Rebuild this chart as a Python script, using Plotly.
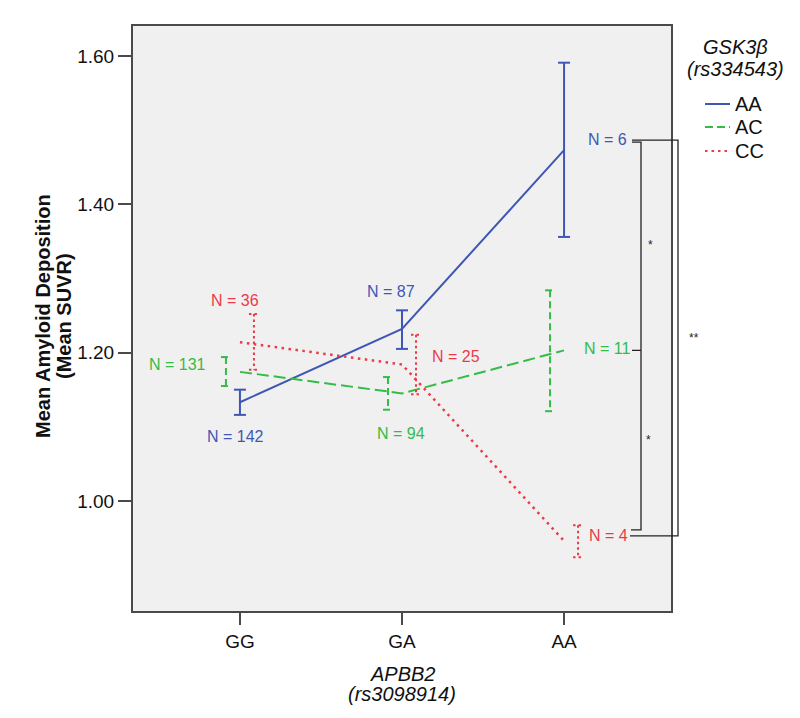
import plotly.graph_objects as go

# ---------------- data ----------------
categories = ["GG", "GA", "AA"]          # APBB2 (rs3098914)
groups = ["AA", "AC", "CC"]              # GSK3β (rs334543)

aa_mean = [1.133, 1.232, 1.473]
aa_low = [1.116, 1.205, 1.356]
aa_high = [1.150, 1.257, 1.591]
aa_n = [142, 87, 6]

ac_mean = [1.174, 1.145, 1.203]
ac_low = [1.155, 1.123, 1.121]
ac_high = [1.194, 1.167, 1.284]
ac_n = [131, 94, 11]

cc_mean = [1.214, 1.184, 0.946]
cc_low = [1.177, 1.144, 0.924]
cc_high = [1.252, 1.224, 0.967]
cc_n = [36, 25, 4]

y_ticks = [1.00, 1.20, 1.40, 1.60]

# ---------------- layout constants ----------------
W, H = 800, 718
ML, MR, MT, MB = 125, 137, 18, 115
PW, PH = W - ML - MR, H - MT - MB
X_RANGE = [-0.66, 2.66]
Y_RANGE = [0.8515, 1.6405]
PX_PER_X = PW / (X_RANGE[1] - X_RANGE[0])
PX_PER_Y = PH / (Y_RANGE[1] - Y_RANGE[0])

BLUE = "#3f57b4"
GREEN = "#34bc47"
RED = "#ec3a48"
FONT = "Arial, Liberation Sans, sans-serif"
FRAME = "#4a4a4a"
TXT = "#111111"


def px_x(px):
    """pixel x -> paper x"""
    return (px - ML) / PW


def px_y(py):
    """pixel y -> paper y"""
    return (H - MB - py) / PH


def dy(pixels):
    return pixels / PX_PER_Y


def dx(pixels):
    return pixels / PX_PER_X


series = [
    dict(name="AA", mean=aa_mean, low=aa_low, high=aa_high, n=aa_n, color=BLUE,
         dash="solid", edash="solid", ldash="solid", off=0, cap=6, width=2),
    dict(name="AC", mean=ac_mean, low=ac_low, high=ac_high, n=ac_n, color=GREEN,
         dash="12px,5px", edash="7px,4px", ldash="8px,4px", off=-14, cap=5, width=2),
    dict(name="CC", mean=cc_mean, low=cc_low, high=cc_high, n=cc_n, color=RED,
         dash="2.5px,4.5px", edash="2.5px,3px", ldash="2.5px,4px", off=14, cap=5, width=2.5),
]

xpos = list(range(len(categories)))
fig = go.Figure()

for s in series:
    # mean line through category centres
    fig.add_trace(go.Scatter(
        x=xpos, y=s["mean"], mode="lines", name=s["name"],
        line=dict(color=s["color"], width=s["width"], dash=s["dash"]),
        showlegend=False, hoverinfo="skip"))
    # error bars (offset horizontally within category)
    ex, ey = [], []
    for i, (lo, hi) in enumerate(zip(s["low"], s["high"])):
        xc = xpos[i] + dx(s["off"])
        hw = dx(s["cap"])
        ex += [xc - hw, xc + hw, None, xc, xc, None, xc - hw, xc + hw, None]
        ey += [hi, hi, None, hi, lo, None, lo, lo, None]
    fig.add_trace(go.Scatter(
        x=ex, y=ey, mode="lines",
        line=dict(color=s["color"], width=2, dash=s["edash"]),
        showlegend=False, hoverinfo="skip"))


def ann(**kw):
    base = dict(showarrow=False, xanchor="center", yanchor="middle")
    base.update(kw)
    return base


# ---------------- N labels ----------------
# (xshift, yshift) in pixels relative to (category centre, mean)
label_shifts = {
    "AA": [(-4, -34), (-11, 37), (43, 11)],
    "AC": [(-62, 7), (-1, -40), (43, 2)],
    "CC": [(-5, 42), (54, 8), (44, 5)],
}
annotations = []
for s in series:
    for i, n in enumerate(s["n"]):
        sx, sy = label_shifts[s["name"]][i]
        annotations.append(ann(
            x=xpos[i], y=s["mean"][i], xref="x", yref="y",
            text=f"N = {n}", xshift=sx, yshift=sy,
            font=dict(family=FONT, size=16, color=s["color"])))

# ---------------- significance brackets ----------------
y_top = aa_mean[2] + dy(10)
y_mid = ac_mean[2]
y_bot_in = cc_mean[2] + dy(11)
y_bot_out = cc_mean[2] + dy(5)
shapes = []
br = dict(color="#222222", width=1.3)
shapes.append(dict(type="path", xref="paper", yref="y",
                   path=f"M {px_x(624)},{y_top} L {px_x(670)},{y_top} L {px_x(670)},{y_bot_out} L {px_x(622)},{y_bot_out}",
                   line=br))
shapes.append(dict(type="path", xref="paper", yref="y",
                   path=f"M {px_x(624)},{y_top+dy(-2)} L {px_x(633)},{y_top+dy(-2)} L {px_x(633)},{y_bot_in} L {px_x(623)},{y_bot_in}",
                   line=br))
shapes.append(dict(type="line", xref="paper", yref="y",
                   x0=px_x(624), x1=px_x(633), y0=y_mid, y1=y_mid, line=br))
star_font = dict(family=FONT, size=12, color="#222")
annotations.append(ann(x=px_x(642), y=(y_top + y_mid) / 2, xref="paper", yref="y",
                       text="*", font=star_font))
annotations.append(ann(x=px_x(640), y=(y_mid + y_bot_in) / 2, xref="paper", yref="y",
                       text="*", font=star_font))
annotations.append(ann(x=px_x(686), y=(y_top + y_bot_out) / 2, xref="paper", yref="y",
                       text="**", font=star_font))

# ---------------- legend (manual) ----------------
annotations.append(ann(x=px_x(727), y=px_y(39), xref="paper", yref="paper", text="<i>GSK3β</i>",
                       font=dict(family=FONT, size=20, color=TXT)))
annotations.append(ann(x=px_x(727), y=px_y(61), xref="paper", yref="paper", text="<i>(rs334543)</i>",
                       font=dict(family=FONT, size=20, color=TXT)))
leg_y = [96, 119, 143]
for s, ly in zip(series, leg_y):
    shapes.append(dict(type="line", xref="paper", yref="paper",
                       x0=px_x(697), x1=px_x(722), y0=px_y(ly), y1=px_y(ly),
                       line=dict(color=s["color"], width=2, dash=s["ldash"])))
    annotations.append(ann(x=px_x(725), y=px_y(ly), xref="paper", yref="paper", text=s["name"],
                           xanchor="left", font=dict(family=FONT, size=20, color=TXT)))

# ---------------- axis titles ----------------
annotations.append(ann(x=px_x(35), y=px_y(308), xref="paper", yref="paper", textangle=-90,
                       text="<b>Mean Amyloid Deposition</b>",
                       font=dict(family=FONT, size=20, color=TXT)))
annotations.append(ann(x=px_x(56), y=px_y(308), xref="paper", yref="paper", textangle=-90,
                       text="<b>(Mean SUVR)</b>",
                       font=dict(family=FONT, size=20, color=TXT)))
annotations.append(ann(x=0.5, y=px_y(666), xref="paper", yref="paper",
                       text="<i>APBB2</i>",
                       font=dict(family=FONT, size=20, color=TXT)))
annotations.append(ann(x=0.5, y=px_y(686), xref="paper", yref="paper",
                       text="<i>(rs3098914)</i>",
                       font=dict(family=FONT, size=20, color=TXT)))

fig.update_layout(
    width=W, height=H,
    margin=dict(l=ML, r=MR, t=MT, b=MB, pad=0),
    paper_bgcolor="white", plot_bgcolor="#f0f0f0",
    showlegend=False,
    shapes=shapes, annotations=annotations,
    font=dict(family=FONT, color=TXT),
)
fig.update_xaxes(
    range=X_RANGE, tickvals=xpos, ticktext=categories,
    showgrid=False, zeroline=False,
    showline=True, mirror=True, linecolor=FRAME, linewidth=2,
    ticks="outside", ticklen=12, tickcolor=FRAME, tickwidth=1.5,
    tickfont=dict(family=FONT, size=19, color=TXT),
)
fig.update_yaxes(
    range=Y_RANGE, tickvals=y_ticks, ticktext=[f"{v:.2f}" for v in y_ticks],
    showgrid=False, zeroline=False,
    showline=True, mirror=True, linecolor=FRAME, linewidth=2,
    ticks="outside", ticklen=13, tickcolor=FRAME, tickwidth=1.5,
    tickfont=dict(family=FONT, size=19, color=TXT),
)

fig.write_html("out.html")
